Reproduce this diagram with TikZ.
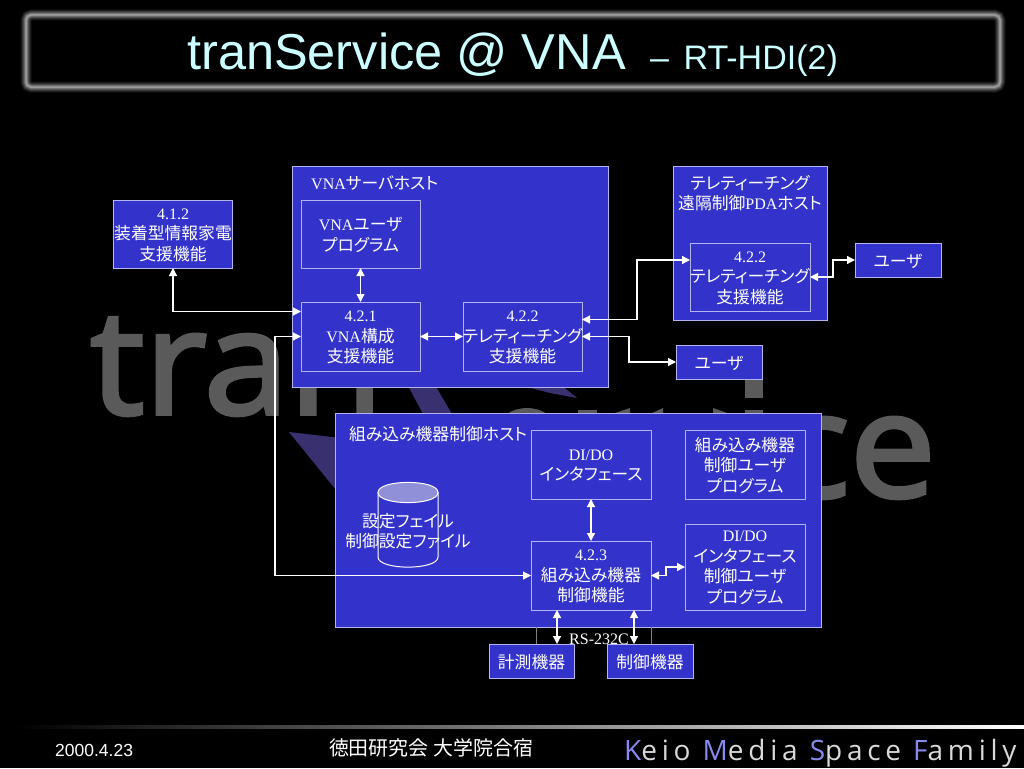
\documentclass[tikz,border=0pt]{standalone}
\usepackage{fontspec}
\usetikzlibrary{arrows.meta,shapes.geometric,calc}
\setmainfont{Liberation Serif}
\newfontfamily\cjk[RawFeature=+palt,Scale=1.05]{Noto Sans CJK JP}
\newfontfamily\arial{Liberation Sans}
\newfontfamily\wm[FakeBold=2.6]{Open Sans}
\newfontfamily\wmlight{Open Sans}
\definecolor{boxblue}{HTML}{3333CC}
\definecolor{boxline}{HTML}{B4B4F0}
\definecolor{titlecol}{HTML}{CCFFFF}
\definecolor{wmgray}{HTML}{5A5A5A}
\definecolor{keioblue}{HTML}{8888EE}
\definecolor{wmpurple}{HTML}{393070}
\definecolor{cyltop}{HTML}{9090D8}
\newcommand{\J}[1]{{\cjk #1}}
\tikzset{
  x=1pt,y=-1pt,
  hostbox/.style={draw=boxline,fill=boxblue,line width=1pt,anchor=north west,inner sep=0pt,outer sep=0pt},
  funcbox/.style={draw=boxline,fill=boxblue,line width=1pt,inner sep=0pt,outer sep=0pt},
  lbl/.style={text=white,align=center,inner sep=0pt,font=\fontsize{16}{20.5}\selectfont},
  link/.style={draw=white,line width=1.2pt,{Triangle[width=8pt,length=8pt]}-{Triangle[width=8pt,length=8pt]}},
  wmtext/.style={inner sep=0pt,text=wmgray,font=\wm\fontsize{146}{146}\selectfont},
}
\newcommand{\fbx}[6]{\node[funcbox,minimum width=#4pt,minimum height=#5pt] (#1) at (#2,#3) {};
  \node[lbl] (#1t) at (#2,#3+1) {#6};}
\begin{document}
\begin{tikzpicture}
\useasboundingbox (0,0) rectangle (1024,768);
\fill[black] (0,0) rectangle (1024,768);
% watermark
\node[wmtext,anchor=base west,xscale=1.05] (wma) at (90,414) {tran};
\node[wmtext,anchor=base east,xscale=1.05] (wmb) at (936,497) {ce};
\fill[wmgray] (745,380) rectangle (763,398);
\fill[wmgray] (745,410) rectangle (763,414);
\fill[wmgray] (578,410) rectangle (597,414);
\fill[wmgray] (612,414) -- (630,408) -- (630,414) -- cycle;
\fill[wmgray] (650,414) -- (663,408) -- (663,414) -- cycle;
\fill[wmgray] (713,408) -- (730,414) -- (713,414) -- cycle;
\fill[wmgray] (507,414) .. controls (518,406) and (536,406) .. (547,414) -- cycle;
\fill[wmpurple] (289,432) -- (336,437.5) -- (336,490) -- cycle;
\fill[wmpurple] (405,380) -- (432,380) -- (452,414) -- (423,414) -- cycle;
\fill[wmpurple] (500,380) -- (555,380) -- (577,398) -- (550,393) -- cycle;
% title frame
\foreach \w/\c in {11/7,9/15,7/25,5/37,3/50,1.5/60}{
  \draw[line width=\w pt,color=white!\c!black,rounded corners=5pt] (26,15) rectangle (1000,87);
}
\node[anchor=base west,inner sep=0pt,text=titlecol,font=\arial\fontsize{50.5}{50}\selectfont] (title) at (187,70) {tranService @ VNA};
\node[anchor=base west,inner sep=0pt,text=titlecol,font=\arial\fontsize{34}{34}\selectfont] (subtitle) at (650,70) {–\hspace{5pt} RT-HDI(2)};
% host boxes
\node[hostbox,minimum width=316pt,minimum height=221pt] (vnahost) at (292,166) {};
\node[hostbox,minimum width=154pt,minimum height=154pt] (telehost) at (673,166) {};
\node[hostbox,minimum width=486pt,minimum height=214pt] (embhost) at (335,413) {};
\node[lbl,anchor=west] (vnahostt) at (311,183) {VNA\J{サーバホスト}};
\node[lbl] (telehostt) at (750,193) {\J{テレティーチング}\\\J{遠隔制御}PDA\J{ホスト}};
\node[lbl,anchor=west] (embhostt) at (349,434) {\J{組み込み機器制御ホスト}};
% function boxes
\fbx{b412}{173}{234}{119}{68}{4.1.2\\\J{装着型情報家電}\\\J{支援機能}}
\fbx{vnaprog}{360.5}{234}{119}{68}{VNA\J{ユーザ}\\\J{プログラム}}
\fbx{b421}{360.5}{336.5}{119}{69}{4.2.1\\VNA\J{構成}\\\J{支援機能}}
\fbx{b422l}{522.5}{336.5}{119}{69}{4.2.2\\\J{テレティーチング}\\\J{支援機能}}
\fbx{b422r}{750}{277}{120}{68}{4.2.2\\\J{テレティーチング}\\\J{支援機能}}
\fbx{userr}{898}{260}{86}{34}{\J{ユーザ}}
\fbx{userl}{719}{362}{86}{34}{\J{ユーザ}}
\fbx{dido}{591}{464.5}{120}{69}{DI/DO\\\J{インタフェース}}
\fbx{embprog}{745}{464.5}{120}{69}{\J{組み込み機器}\\\J{制御ユーザ}\\\J{プログラム}}
\fbx{didoprog}{745}{567}{120}{86}{DI/DO\\\J{インタフェース}\\\J{制御ユーザ}\\\J{プログラム}}
\fbx{b423}{591}{575.5}{120}{69}{4.2.3\\\J{組み込み機器}\\\J{制御機能}}
\fbx{keisoku}{531.5}{661}{85}{34}{\J{計測機器}}
\fbx{seigyo}{650}{661}{86}{34}{\J{制御機器}}
% cylinder
\draw[draw=white,line width=1pt,fill=boxblue] (378,492) -- (378,557) .. controls (378,570.5) and (438,570.5) .. (438,557) -- (438,492);
\draw[draw=white,line width=1pt,fill=cyltop] (378,492.5) .. controls (378,479) and (438,479) .. (438,492.5) .. controls (438,506) and (378,506) .. (378,492.5) -- cycle;
\node[lbl] (dbt) at (408,531) {\J{設定フェイル}\\\J{制御設定ファイル}};
% RS-232C
\draw[color=gray,line width=1pt] (536,627) -- (536,644) (651,627) -- (651,644);
\node[lbl] (rs) at (599,639) {RS-232C};
% connectors
\coordinate (c412) at ([yshift=25pt]b421.west);
\coordinate (c422u) at ([yshift=17pt]b422l.east);
\coordinate (c422r) at ([yshift=17pt]b422r.west);
\coordinate (cdk) at ([xshift=-34pt]b423.south);
\coordinate (cds) at ([xshift=43pt]b423.south);
\draw[link] (vnaprog.south) -- (b421.north);
\draw[link] (b412.south) |- (c412);
\draw[link] (b421.west) -- +(-26,0) |- (b423.west);
\draw[link] (b421.east) -- (b422l.west);
\draw[link] (c422u) -- +(55,0) |- (c422r);
\draw[link] (b422l.east) -- +(47,0) |- (userl.west);
\draw[link] (b422r.east) -- +(23,0) |- (userr.west);
\draw[link] (dido.south) -- (b423.north);
\draw[link] (b423.east) -- +(15,0) |- (didoprog.west);
\draw[link] (cdk) -- (cdk |- keisoku.north);
\draw[link] (cds) -- (cds |- seigyo.north);
% footer
\shade[left color=black,right color=white,middle color=gray] (15,725.5) rectangle (1024,728.5);
\node[anchor=base west,inner sep=0pt,text=white,font=\arial\fontsize{17.5}{17}\selectfont] (date) at (55,756) {2000.4.23};
\node[anchor=base,inner sep=0pt,text=white,font=\cjk\fontsize{19}{20}\selectfont] (lab) at (431,755) {徳田研究会 大学院合宿};
\node[anchor=base west,inner sep=0pt,text=white!85!black,font=\wmlight\fontsize{28}{28}\selectfont] (kmsf) at (624,760) {\addfontfeature{LetterSpace=17}\textcolor{keioblue}{K}eio \textcolor{keioblue}{M}edia \textcolor{keioblue}{S}pace \textcolor{keioblue}{F}amily};
\end{tikzpicture}
\end{document}
